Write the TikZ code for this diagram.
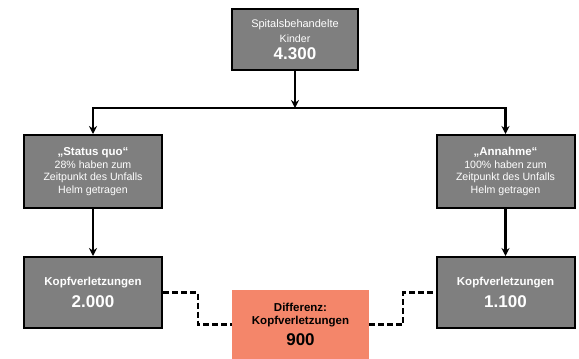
\documentclass[tikz,border=0pt]{standalone}
\usepackage{fontspec}
\setmainfont{Liberation Sans}
\usepackage{tikz}
\usetikzlibrary{arrows.meta}

\definecolor{boxgray}{RGB}{127,127,127}
\definecolor{diffred}{RGB}{244,134,106}

\newcommand{\bignum}[1]{{\fontsize{17}{20}\selectfont\bfseries #1}}
\newcommand{\boldlabel}[1]{{\fontsize{11.5}{13}\selectfont\bfseries #1}}

\begin{document}
\begin{tikzpicture}[x=1pt, y=-1pt,
    graybox/.style={rectangle, draw=black, line width=2pt, fill=boxgray, text=white,
        align=center, inner sep=2pt, font=\fontsize{10.6}{12.7}\selectfont},
    diffbox/.style={rectangle, fill=diffred, text=black, align=center, inner sep=2pt,
        font=\fontsize{10.6}{12.7}\selectfont\bfseries},
    flow/.style={line width=2.2pt, -{Stealth[length=8pt,width=8pt]}},
    dashline/.style={line width=2.2pt, dash pattern=on 6pt off 3pt}]
    \useasboundingbox (0,0) rectangle (579,359);

    % Start
    \node[graybox, minimum width=126pt, minimum height=61pt] (kinder) at (295,39.5)
        {\fontsize{11}{13}\selectfont Spitalsbehandelte\\[2pt]Kinder\\[4pt]\bignum{4.300}};

    % Scenarios
    \node[graybox, minimum width=138pt, minimum height=73pt] (statusquo) at (93,171.5)
        {\boldlabel{„Status quo“}\\28\% haben zum\\Zeitpunkt des Unfalls\\Helm getragen};
    \node[graybox, minimum width=138pt, minimum height=73pt] (annahme) at (505.5,171.5)
        {\boldlabel{„Annahme“}\\100\% haben zum\\Zeitpunkt des Unfalls\\Helm getragen};

    % Results
    \node[graybox, minimum width=138pt, minimum height=71pt] (kopfL) at (93,292.5)
        {\boldlabel{Kopfverletzungen}\\[6pt]\bignum{2.000}};
    \node[graybox, minimum width=138pt, minimum height=71pt] (kopfR) at (505.5,292.5)
        {\boldlabel{Kopfverletzungen}\\[6pt]\bignum{1.100}};

    % Difference
    \node[diffbox, minimum width=137pt, minimum height=69pt] (diff) at (300.5,324.5)
        {\boldlabel{Differenz:}\\\boldlabel{Kopfverletzungen}\\[6pt]\bignum{900}};

    % Split line
    \coordinate (split) at (295,108);
    \coordinate (splitL) at (92,108);
    \coordinate (splitR) at (506.5,108);

    % Connections
    \draw[flow] (kinder) -- (split);
    \draw[line width=2.2pt] (splitL) -- (splitR);
    \draw[flow] (splitL -| statusquo) -- (statusquo);
    \draw[flow] (splitR -| annahme) -- (annahme);
    \draw[flow] (statusquo) -- (kopfL);
    \draw[flow] (annahme) -- (kopfR);
    \draw[dashline] (kopfL.east) -- ++(35,0) |- (diff.west);
    \draw[dashline] (diff.east) -- ++(34,0) |- (kopfR.west);
\end{tikzpicture}
\end{document}
